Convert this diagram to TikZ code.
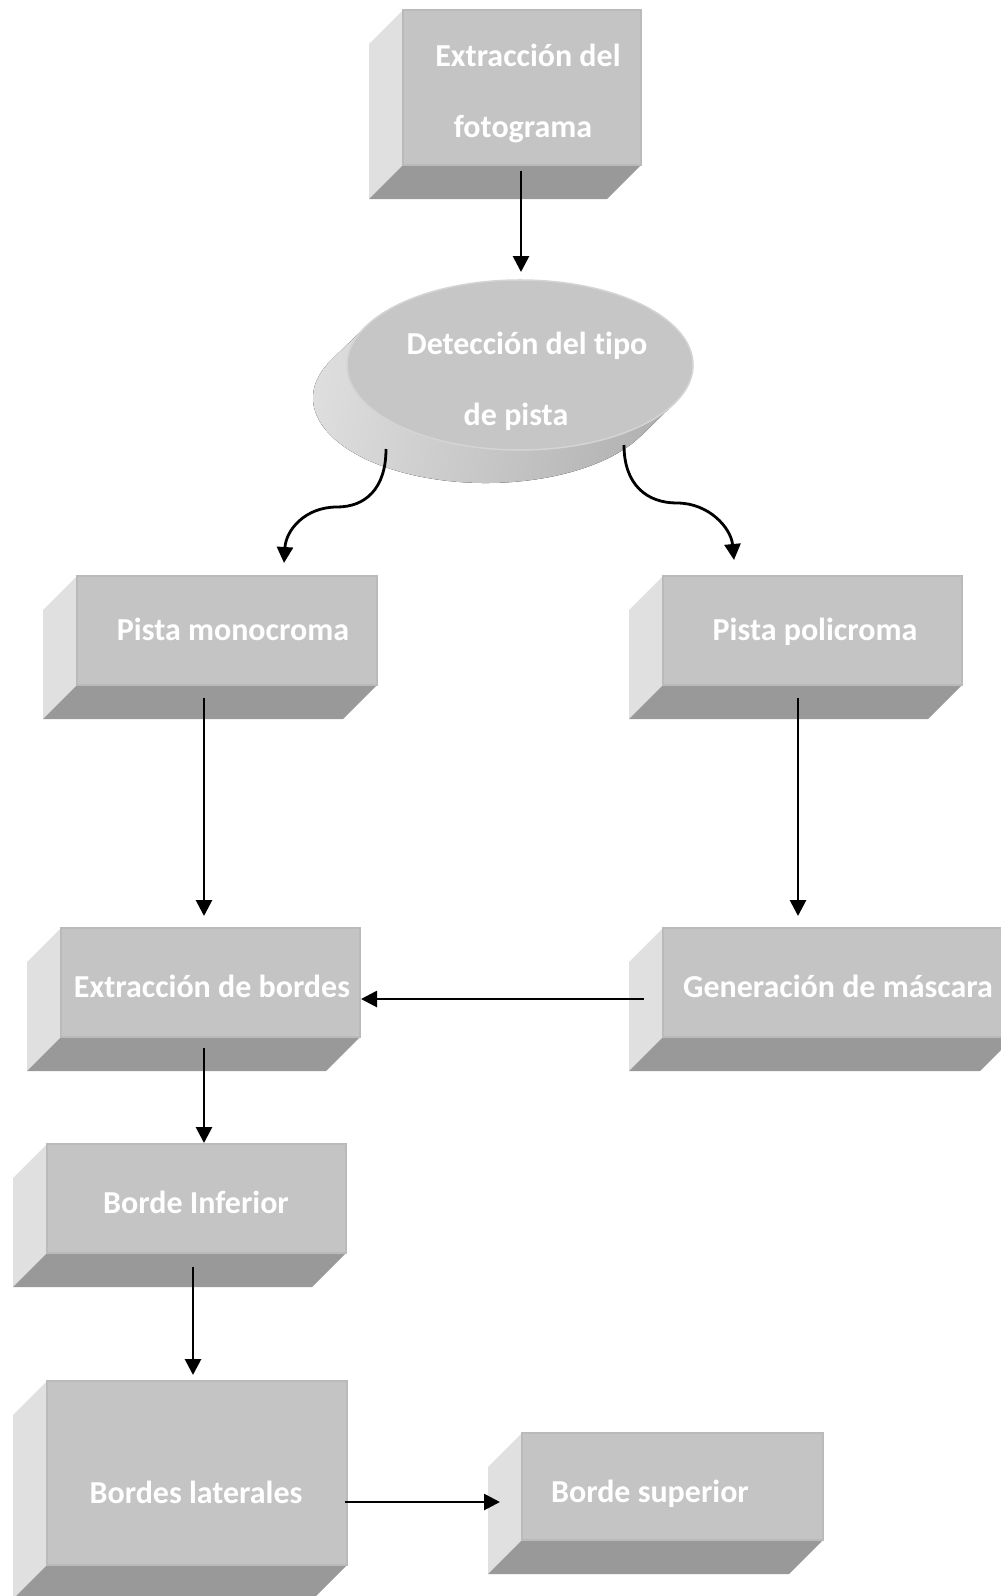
\documentclass[tikz,border=0pt]{standalone}
\usepackage{fontspec}
\setmainfont{Carlito}[Ligatures=NoCommon]
\usetikzlibrary{arrows.meta,calc,shapes.geometric}
\definecolor{frontc}{HTML}{C4C4C4}
\definecolor{leftc}{HTML}{E0E0E0}
\definecolor{botc}{HTML}{999999}
\definecolor{edgec}{HTML}{BABABA}
\definecolor{ellc}{HTML}{C6C6C6}
\definecolor{ellrim}{HTML}{D4D4D4}
\newcommand\boxthreed[5]{%
  \fill[leftc] (#2-34,#3+34) -- (#2,#3) -- (#2,#5) -- (#2-34,#5+34) -- cycle;
  \fill[botc] (#2,#5) -- (#4,#5) -- (#4-34,#5+34) -- (#2-34,#5+34) -- cycle;
  \node[front, minimum width=#4-#2, minimum height=#5-#3, anchor=north west] (#1) at (#2,#3) {};
}
\begin{document}
\begin{tikzpicture}[x=1pt,y=-1pt,
  front/.style={fill=frontc, draw=edgec, line width=1.2pt, inner sep=0pt, outer sep=0pt},
  txt/.style={text=white, font=\bfseries\fontsize{32}{38}\selectfont, inner sep=0pt, anchor=base},
  arr/.style={line width=2.8pt, -{Triangle[length=16pt,width=16pt]}},
]
\path[use as bounding box, clip] (0,0) rectangle (1001,1596);
\fill[white] (0,0) rectangle (1001,1596);

% boxes
\boxthreed{top}{403}{10}{641}{165}
\boxthreed{mono}{77}{576}{377}{685}
\boxthreed{poly}{663}{576}{962}{685}
\boxthreed{bord}{61}{928}{360}{1037}
\boxthreed{mask}{663}{928}{1014}{1037}
\boxthreed{inf}{47}{1144}{346}{1253}
\boxthreed{lat}{47}{1381}{347}{1565}
\boxthreed{sup}{522}{1433}{823}{1540}

% ellipse (disk)
\fill[left color=leftc, middle color=botc!95!white, right color=frontc!88!black, shading angle=80]
  ({486+173*cos(206.85)},{398+85*sin(206.85)})
  arc[start angle=206.85, end angle=26.85, x radius=173, y radius=85]
  -- ++(34,-33)
  arc[start angle=26.85, end angle=-153.15, x radius=173, y radius=85]
  -- cycle;
\node[ellipse, fill=ellc, draw=ellrim, line width=1.5pt, minimum width=346, minimum height=170, inner sep=0pt, outer sep=0pt] (ell) at (520,365) {};

% texts
\node[txt] (t1a) at (528,66) {Extracción del};
\node[txt] (t1b) at (523,137) {fotograma};
\node[txt] (t2a) at (527,354) {Detección del tipo};
\node[txt] (t2b) at (516,425) {de pista};
\node[txt] (t3) at (233,640) {Pista monocroma};
\node[txt] (t4) at (815,640) {Pista policroma};
\node[txt] (t5) at (212,997) {Extracción de bordes};
\node[txt] (t6) at (838,997) {Generación de máscara};
\node[txt] (t7) at (196,1213) {Borde Inferior};
\node[txt] (t8) at (196,1503) {Bordes laterales};
\node[txt] (t9) at (650,1502) {Borde superior};

% connectors
\coordinate (lm) at (337,507);
\coordinate (rm) at (677,503);
\draw[arr] ($(top.south)+(-1,6)$) -- ($(ell.north)+(1,-8)$);
\draw[arr] ($(ell.center)+(-134,84)$) .. controls +(0,40) and +(28,0) .. (lm)
  .. controls +(-32,0) and +(2,-33) .. ($(mono.north west)+(207,-13)$);
\draw[arr] ($(ell.center)+(104,80)$) .. controls +(0,40) and +(-30,0) .. (rm)
  .. controls +(32,0) and +(-3,-32) .. ($(poly.north west)+(71,-16)$);
\draw[arr] ($(mono.south west)+(127,13)$) -- ($(bord.north west)+(143,-12)$);
\draw[arr] ($(poly.south west)+(135,13)$) -- ($(mask.north west)+(135,-12)$);
\draw[arr] ($(mask.north west)+(-19,71)$) -- ($(bord.north east)+(1,71)$);
\draw[arr] ($(bord.south west)+(143,11)$) -- ($(inf.north west)+(157,-1)$);
\draw[arr] ($(inf.south west)+(146,14)$) -- ($(lat.north west)+(146,-6)$);
\draw[arr] ($(lat.north east)+(-2,121)$) -- ($(sup.north west)+(-22,69)$);
\end{tikzpicture}
\end{document}
